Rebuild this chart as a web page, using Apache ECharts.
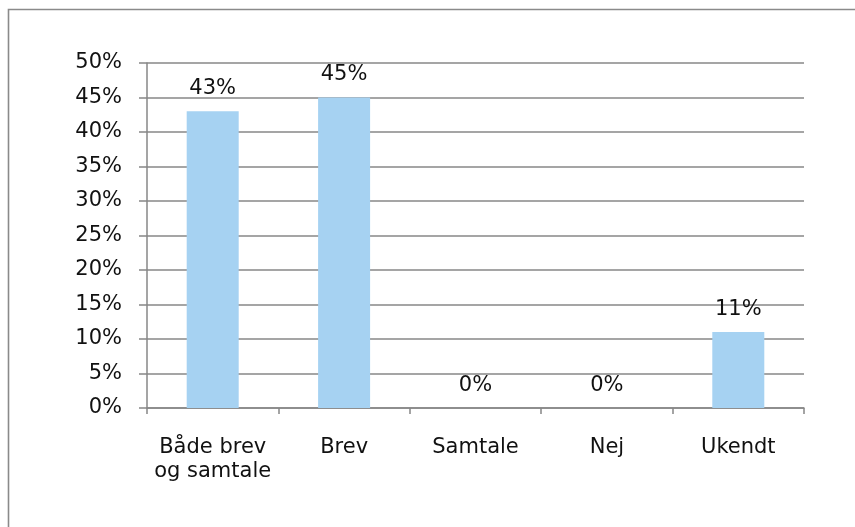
<!DOCTYPE html>
<html>
<head>
<meta charset="utf-8">
<script src="https://cdn.jsdelivr.net/npm/echarts@6/dist/echarts.min.js"></script>
<style>
  html, body { margin: 0; padding: 0; background: #fff; }
  #chart { width: 855px; height: 527px; }
</style>
</head>
<body>
<div id="chart"></div>
<script>
// Categories and percentage shares
const categories = ['Både brev\nog samtale', 'Brev', 'Samtale', 'Nej', 'Ukendt'];
const shares = [43, 45, 0, 0, 11];
const yTicks = { min: 0, max: 50, step: 5 };

const FONT = 'DejaVu Sans';
const GREY = '#878787';

const chart = echarts.init(document.getElementById('chart'), null, { renderer: 'canvas' });

chart.setOption({
  animation: false,
  backgroundColor: '#ffffff',
  graphic: [{
    type: 'rect',
    shape: { x: 8.5, y: 9.5, width: 1000, height: 1000 },
    style: { fill: 'none', stroke: '#8a8a8a', lineWidth: 1.6 },
    silent: true
  }],
  grid: { left: 147, right: 51, top: 63, bottom: 119, containLabel: false },
  xAxis: {
    type: 'category',
    data: categories,
    axisLine: { show: true, lineStyle: { color: GREY, width: 1.5 } },
    axisTick: { show: true, alignWithLabel: false, length: 6, lineStyle: { color: GREY, width: 1.5 } },
    axisLabel: {
      interval: 0, margin: 28, color: '#111', fontFamily: FONT, fontSize: 21, lineHeight: 24
    },
    splitLine: { show: false }
  },
  yAxis: {
    type: 'value',
    min: yTicks.min, max: yTicks.max, interval: yTicks.step,
    axisLine: { show: true, lineStyle: { color: GREY, width: 1.5 } },
    axisTick: { show: true, length: 8, lineStyle: { color: GREY, width: 1.5 } },
    axisLabel: {
      formatter: '{value}%', margin: 25, color: '#111', fontFamily: FONT, fontSize: 21
    },
    splitLine: { show: true, lineStyle: { color: GREY, width: 1.5 } }
  },
  series: [{
    type: 'bar',
    data: shares,
    barWidth: 52,
    itemStyle: { color: '#A6D2F2' },
    label: {
      show: true, position: 'top', distance: 12,
      formatter: p => p.value + '%',
      color: '#111', fontFamily: FONT, fontSize: 21
    }
  }]
});
</script>
</body>
</html>
